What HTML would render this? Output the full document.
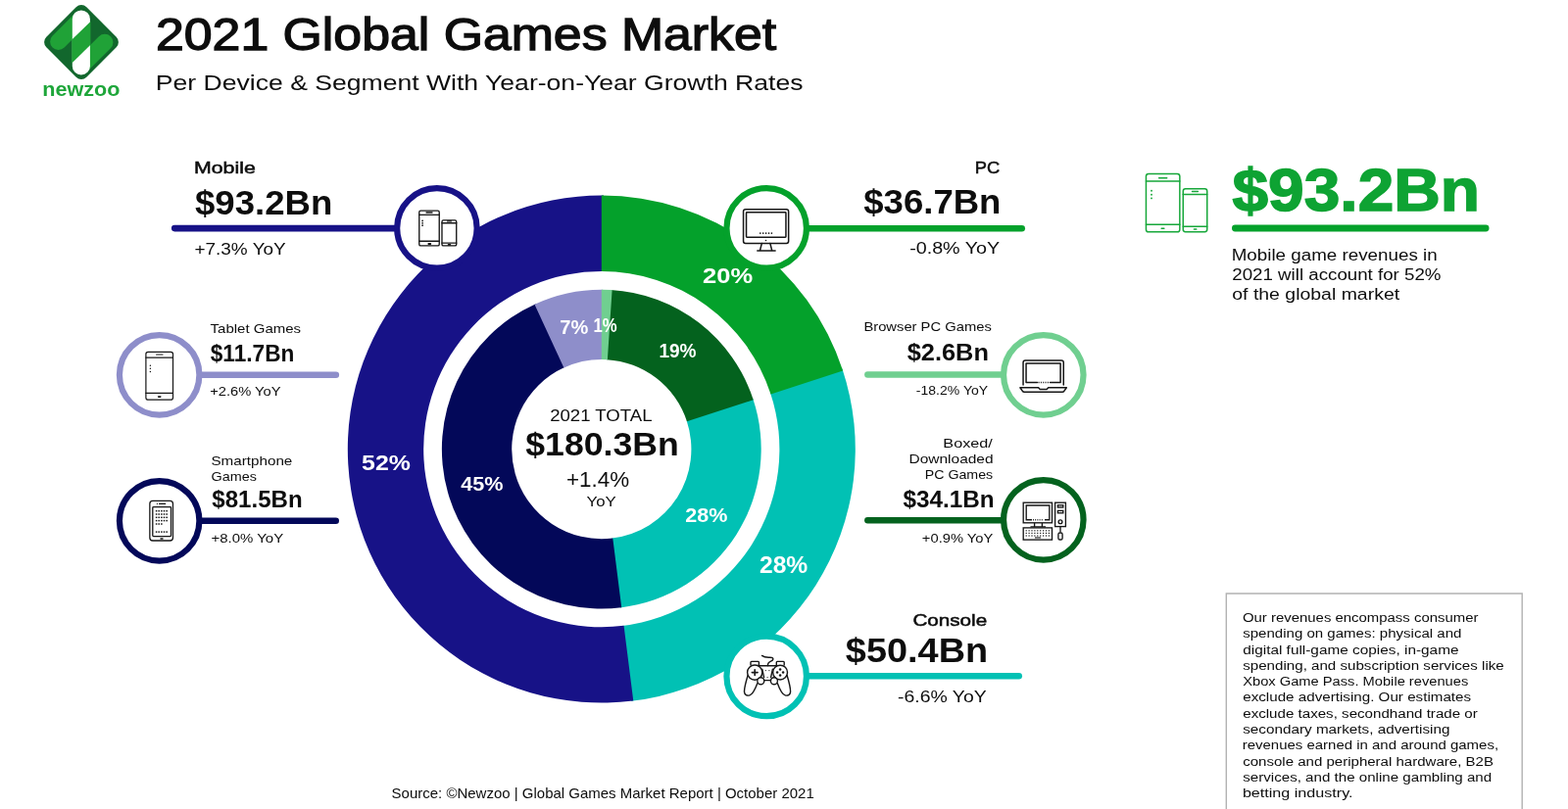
<!DOCTYPE html>
<html lang="en">
<head>
<meta charset="utf-8">
<title>2021 Global Games Market</title>
<style>
html,body{margin:0;padding:0;background:#fff;}
body{width:1600px;height:826px;overflow:hidden;font-family:"Liberation Sans", sans-serif;}
svg{display:block;}
svg text{font-family:"Liberation Sans", sans-serif;}
</style>
</head>
<body>
<svg width="1600" height="826" viewBox="0 0 1600 826">
<rect width="1600" height="826" fill="#fff"/>
<g id="logo">
<rect x="54" y="14" width="58" height="58" rx="7.5" fill="#12672d" transform="rotate(45 83 43)"/>
<line x1="59.6" y1="42.4" x2="80" y2="22" stroke="#20a237" stroke-width="17" stroke-linecap="round"/>
<line x1="106.9" y1="43.2" x2="86" y2="64.1" stroke="#20a237" stroke-width="17" stroke-linecap="round"/>
<rect x="73.8" y="10.4" width="18.1" height="66.1" rx="9.05" fill="#fff"/>
<polygon points="73.3,40.6 92.4,21.9 92.4,45.8 73.3,64.5" fill="#20a237"/>

</g>
<g id="donut">
<path d="M859.42 376.42A259.0 259.0 0 0 1 644.02 715.83L634.99 638.96A181.6 181.6 0 0 0 786.02 400.98Z" fill="#01c1b4"/>
<path d="M646.26 715.56A259.0 259.0 0 1 1 616.06 199.61L615.38 277.01A181.6 181.6 0 1 0 636.56 638.77Z" fill="#171287"/>
<path d="M613.80 199.60A259.0 259.0 0 0 1 860.12 378.56L786.51 402.48A181.6 181.6 0 0 0 613.80 277.00Z" fill="#04a12b"/>
<path d="M768.28 406.91A162.9 162.9 0 0 1 632.81 620.39L624.49 549.57A91.6 91.6 0 0 0 700.67 429.53Z" fill="#01c1b4"/>
<path d="M634.22 620.22A162.9 162.9 0 0 1 546.76 310.13L576.11 375.12A91.6 91.6 0 0 0 625.28 549.48Z" fill="#030859"/>
<path d="M623.18 295.97A162.9 162.9 0 0 1 768.73 408.26L700.92 430.29A91.6 91.6 0 0 0 619.07 367.15Z" fill="#04621e"/>
<path d="M545.47 310.72A162.9 162.9 0 0 1 615.22 295.71L614.60 367.00A91.6 91.6 0 0 0 575.38 375.45Z" fill="#8e8eca"/>
<path d="M613.80 295.70A162.9 162.9 0 0 1 624.60 296.06L619.87 367.20A91.6 91.6 0 0 0 613.80 367.00Z" fill="#70cf90"/>
</g>
<g id="callouts">
<line x1="178.20" y1="233.1" x2="405.15" y2="233.1" stroke="#171287" stroke-width="6.6" stroke-linecap="round"/><circle cx="445.9" cy="232.9" r="40.75" fill="#fff" stroke="#171287" stroke-width="6.2"/>
<line x1="822.95" y1="233.2" x2="1042.70" y2="233.2" stroke="#04a12b" stroke-width="6.6" stroke-linecap="round"/><circle cx="782.2" cy="232.9" r="40.75" fill="#fff" stroke="#04a12b" stroke-width="6.2"/>
<line x1="203.40" y1="382.8" x2="342.80" y2="382.8" stroke="#8e8eca" stroke-width="6.6" stroke-linecap="round"/><circle cx="162.65" cy="382.8" r="40.75" fill="#fff" stroke="#8e8eca" stroke-width="6.2"/>
<line x1="203.40" y1="531.8" x2="342.70" y2="531.8" stroke="#030859" stroke-width="6.6" stroke-linecap="round"/><circle cx="162.65" cy="531.8" r="40.75" fill="#fff" stroke="#030859" stroke-width="6.2"/>
<line x1="885.40" y1="382.5" x2="1024.05" y2="382.5" stroke="#70cf90" stroke-width="6.6" stroke-linecap="round"/><circle cx="1064.8" cy="382.8" r="40.75" fill="#fff" stroke="#70cf90" stroke-width="6.2"/>
<line x1="885.40" y1="531.3" x2="1024.05" y2="531.3" stroke="#04621e" stroke-width="6.6" stroke-linecap="round"/><circle cx="1064.8" cy="530.8" r="40.75" fill="#fff" stroke="#04621e" stroke-width="6.2"/>
<line x1="822.95" y1="690.2" x2="1039.70" y2="690.2" stroke="#01c1b4" stroke-width="6.6" stroke-linecap="round"/><circle cx="782.2" cy="690.4" r="40.75" fill="#fff" stroke="#01c1b4" stroke-width="6.2"/>
</g>
<g id="icons">
<g id="ic-mobile">
<g fill="none" stroke="#161616" stroke-width="1.35" stroke-linecap="round" stroke-linejoin="round"><rect x="427.78" y="215.18" width="20.45" height="35.75" rx="1.5"/><path d="M427.78 219.3H448.22M427.78 246.2H448.22"/><path d="M435 217.0H441"/><path d="M437.3 249.0H439.3" stroke-width="1.76"/></g><circle cx="431.1" cy="225.4" r="0.84" fill="#161616"/><circle cx="431.1" cy="227.8" r="0.84" fill="#161616"/><circle cx="431.1" cy="230.2" r="0.84" fill="#161616"/>
<g fill="none" stroke="#161616" stroke-width="1.35" stroke-linecap="round" stroke-linejoin="round"><rect x="450.98" y="224.88" width="14.75" height="26.05" rx="1.5"/><path d="M450.98 227.7H465.72M450.98 248.1H465.72"/><path d="M456.6 225.9H460.4"/><path d="M457.6 249.9H459.4" stroke-width="1.76"/></g>
</g>
<g id="ic-monitor" fill="none" stroke="#161616" stroke-width="1.5" stroke-linejoin="round" stroke-linecap="round">
<rect x="758.55" y="213.85" width="46.1" height="34.6" rx="2.2"/>
<rect x="761.55" y="216.85" width="40.4" height="25.3" rx="0.6"/>
<path d="M777.3 248.6L775.5 255.7M785.9 248.6L787.7 255.7M772.8 256H791.1"/>
</g>
<g fill="#161616"><circle cx="775.8" cy="238.1" r="0.85"/><circle cx="778.7" cy="238.1" r="0.85"/><circle cx="781.6" cy="238.1" r="0.85"/><circle cx="784.5" cy="238.1" r="0.85"/><circle cx="787.4" cy="238.1" r="0.85"/><circle cx="781.5" cy="245.5" r="0.8"/></g>
<g id="ic-tablet">
<g fill="none" stroke="#161616" stroke-width="1.2" stroke-linecap="round" stroke-linejoin="round"><rect x="148.90" y="359.30" width="27.60" height="48.80" rx="2.2"/><path d="M148.90 365.1H176.50M148.90 401.4H176.50"/><path d="M159.6 362.0H166"/><path d="M161.6 405.1H163.8" stroke-width="1.56"/></g><circle cx="153.4" cy="373.3" r="0.74" fill="#161616"/><circle cx="153.4" cy="376.3" r="0.74" fill="#161616"/><circle cx="153.4" cy="379.4" r="0.74" fill="#161616"/>
</g>
<g id="ic-smart" fill="none" stroke="#161616" stroke-width="1.3" stroke-linejoin="round" stroke-linecap="round">
<rect x="152.85" y="511.3" width="23.6" height="40.7" rx="3"/>
<rect x="155.8" y="517.6" width="18.7" height="30" rx="0.8"/>
<path d="M162.6 514.4H168.6"/>
<path d="M163.9 550H166.1" stroke-width="1.3"/>
</g><g fill="#161616"><circle cx="160.4" cy="514.4" r="0.6"/><rect x="158.85" y="520.95" width="1.5" height="1.5"/><rect x="161.45" y="520.95" width="1.5" height="1.5"/><rect x="164.10" y="520.95" width="1.5" height="1.5"/><rect x="166.75" y="520.95" width="1.5" height="1.5"/><rect x="169.40" y="520.95" width="1.5" height="1.5"/><rect x="158.85" y="524.25" width="1.5" height="1.5"/><rect x="161.45" y="524.25" width="1.5" height="1.5"/><rect x="164.10" y="524.25" width="1.5" height="1.5"/><rect x="166.75" y="524.25" width="1.5" height="1.5"/><rect x="169.40" y="524.25" width="1.5" height="1.5"/><rect x="158.85" y="527.55" width="1.5" height="1.5"/><rect x="161.45" y="527.55" width="1.5" height="1.5"/><rect x="164.10" y="527.55" width="1.5" height="1.5"/><rect x="166.75" y="527.55" width="1.5" height="1.5"/><rect x="169.40" y="527.55" width="1.5" height="1.5"/><rect x="158.85" y="530.85" width="1.5" height="1.5"/><rect x="161.45" y="530.85" width="1.5" height="1.5"/><rect x="164.10" y="530.85" width="1.5" height="1.5"/><rect x="166.75" y="530.85" width="1.5" height="1.5"/><rect x="169.40" y="530.85" width="1.5" height="1.5"/><rect x="158.85" y="534.25" width="1.5" height="1.5"/><rect x="161.45" y="534.25" width="1.5" height="1.5"/><rect x="164.10" y="534.25" width="1.5" height="1.5"/><rect x="158.85" y="542.35" width="1.5" height="1.5"/><rect x="161.45" y="542.35" width="1.5" height="1.5"/><rect x="164.10" y="542.35" width="1.5" height="1.5"/><rect x="166.75" y="542.35" width="1.5" height="1.5"/><rect x="169.40" y="542.35" width="1.5" height="1.5"/></g>
<g id="ic-laptop" fill="none" stroke="#161616" stroke-width="1.5" stroke-linejoin="round" stroke-linecap="round">
<path d="M1044.05 393V370.2Q1044.05 368.05 1046.2 368.05H1083.1Q1085.25 368.05 1085.25 370.2V393"/>
<path d="M1058.5 390.6H1047.05V371.05H1082.1V390.6H1071.5"/>
<path d="M1059.6 390.6H1070.6" stroke-dasharray="1 1.3" stroke-linecap="butt"/>
<path d="M1040.9 395.8H1059.6L1061.2 397.5H1068.1L1069.7 395.8H1088.3L1085.6 399.6Q1085 400.2 1084.2 400.2H1045Q1044.2 400.2 1043.6 399.6Z"/>
</g>
<g id="ic-desktop" fill="none" stroke="#161616" stroke-width="1.35" stroke-linejoin="miter" stroke-linecap="butt">
<rect x="1044.2" y="513.2" width="29.3" height="20.6"/>
<path d="M1053 530.7H1047.2V516H1070.8V530.7H1066"/>
<path d="M1054 530.7H1065" stroke-dasharray="0.9 1.3"/>
<path d="M1055.6 534V537.6M1063.4 534V537.6M1051.5 537.9H1067"/>
<rect x="1044.2" y="538.9" width="29.3" height="12.2"/>
<rect x="1076.6" y="513.2" width="10.8" height="24.4"/>
<rect x="1079.4" y="515.8" width="5.4" height="2.2"/>
<rect x="1079.4" y="521.4" width="5.4" height="2.4"/>
<circle cx="1082" cy="532.7" r="1.9"/>
<path d="M1082 537.6V543.5"/>
<rect x="1079.9" y="544" width="4.2" height="7" rx="1.6"/>
</g><g fill="#161616"><rect x="1046.60" y="541.20" width="1.2" height="1.2"/><rect x="1049.50" y="541.20" width="1.2" height="1.2"/><rect x="1052.40" y="541.20" width="1.2" height="1.2"/><rect x="1055.30" y="541.20" width="1.2" height="1.2"/><rect x="1058.20" y="541.20" width="1.2" height="1.2"/><rect x="1061.10" y="541.20" width="1.2" height="1.2"/><rect x="1064.00" y="541.20" width="1.2" height="1.2"/><rect x="1066.90" y="541.20" width="1.2" height="1.2"/><rect x="1069.80" y="541.20" width="1.2" height="1.2"/><rect x="1046.60" y="543.80" width="1.2" height="1.2"/><rect x="1049.50" y="543.80" width="1.2" height="1.2"/><rect x="1052.40" y="543.80" width="1.2" height="1.2"/><rect x="1055.30" y="543.80" width="1.2" height="1.2"/><rect x="1058.20" y="543.80" width="1.2" height="1.2"/><rect x="1061.10" y="543.80" width="1.2" height="1.2"/><rect x="1064.00" y="543.80" width="1.2" height="1.2"/><rect x="1066.90" y="543.80" width="1.2" height="1.2"/><rect x="1069.80" y="543.80" width="1.2" height="1.2"/><rect x="1046.60" y="546.40" width="1.2" height="1.2"/><rect x="1049.50" y="546.40" width="1.2" height="1.2"/><rect x="1052.40" y="546.40" width="1.2" height="1.2"/><rect x="1055.30" y="546.40" width="1.2" height="1.2"/><rect x="1058.20" y="546.40" width="1.2" height="1.2"/><rect x="1061.10" y="546.40" width="1.2" height="1.2"/><rect x="1064.00" y="546.40" width="1.2" height="1.2"/><rect x="1066.90" y="546.40" width="1.2" height="1.2"/><rect x="1069.80" y="546.40" width="1.2" height="1.2"/><rect x="1056" y="548.4" width="6" height="1.1"/></g>
<g id="ic-pad" fill="none" stroke="#161616" stroke-width="1.4" stroke-linejoin="round" stroke-linecap="round">
<path d="M766 679V676.2Q766 675.4 766.8 675.4H773.6Q774.4 675.4 774.4 676.2V679.6"/>
<path d="M792.3 679.6V676.2Q792.3 675.4 793.1 675.4H799.4Q800.2 675.4 800.2 676.2V679"/>
<path d="M774.4 679.8H792.3"/>
<path d="M783.5 679.6C783.3 677 784.4 676 786.6 675.1C788.8 674.2 789.6 672.6 788.2 671.6C786.6 670.4 781.4 672.6 777.5 669.4"/>
<circle cx="770.2" cy="686.6" r="7.6"/>
<circle cx="796.1" cy="686.6" r="7.4"/>
<circle cx="776.3" cy="695.2" r="3.5" fill="#fff"/>
<circle cx="789.9" cy="695.2" r="3.5" fill="#fff"/>
<path d="M763.1 689.5C761.3 695.5 759.3 702.5 759.5 706.4C759.7 709.4 762.3 710.6 765 709.9C768.2 709 770.3 704.5 772.9 697.6"/>
<path d="M803.1 689.5C804.9 695.5 806.7 702.5 806.6 706.4C806.4 709.4 803.8 710.6 801.1 709.9C797.9 709 795.8 704.5 793.3 697.6"/>
<path d="M779.6 694.6H786.6"/>
<path d="M777.8 683.2L779.6 691.6M788.4 683.2L786.6 691.6"/>
<path d="M767.3 686.6H773.1M770.2 683.7V689.5" stroke-width="1.6"/>
</g>
<g fill="#161616"><circle cx="796.1" cy="683.6" r="1.25"/><circle cx="793.1" cy="686.6" r="1.25"/><circle cx="799.1" cy="686.6" r="1.25"/><circle cx="796.1" cy="689.6" r="1.25"/>
<circle cx="781.3" cy="684.6" r="0.6"/><circle cx="784.9" cy="684.6" r="0.6"/><circle cx="783.1" cy="691.6" r="0.6"/></g>
<g id="ic-green">
<g fill="none" stroke="#17a73a" stroke-width="1.5" stroke-linecap="round" stroke-linejoin="round"><rect x="1169.45" y="177.45" width="34.40" height="59.30" rx="2.6"/><path d="M1169.45 185.1H1203.85M1169.45 229.2H1203.85"/><path d="M1182.6 181.8H1190.7"/><path d="M1185.2 233.3H1187.9" stroke-width="1.50"/></g><circle cx="1175" cy="194.7" r="0.93" fill="#17a73a"/><circle cx="1175" cy="198.7" r="0.93" fill="#17a73a"/><circle cx="1175" cy="202.4" r="0.93" fill="#17a73a"/>
<g fill="none" stroke="#17a73a" stroke-width="1.5" stroke-linecap="round" stroke-linejoin="round"><rect x="1207.25" y="192.85" width="24.50" height="43.90" rx="2.4"/><path d="M1207.25 198.4H1231.75M1207.25 231.2H1231.75"/><path d="M1216.5 195.4H1222.4"/><path d="M1218.4 233.9H1220.8" stroke-width="1.50"/></g>
</g>
</g>
<g id="panel">
<line x1="1260.4" y1="233" x2="1516.1" y2="233" stroke="#04a12b" stroke-width="6.8" stroke-linecap="round"/>
<path d="M1251.3 827V606h301.9V827" fill="none" stroke="#b2b2b2" stroke-width="1.4"/>
</g>
<g id="labels">
<text transform="translate(159.03 51.30) scale(1.1258 1)" font-size="46" fill="#0d0d0d" stroke="#0d0d0d" stroke-width="1.3" stroke-linejoin="miter" stroke-miterlimit="3">2021 Global Games Market</text>
<text transform="translate(158.87 91.50) scale(1.2193 1)" font-size="21.8" fill="#0d0d0d">Per Device &amp; Segment With Year-on-Year Growth Rates</text>
<text transform="translate(43.25 97.60) scale(1.0793 1)" font-size="20" font-weight="bold" fill="#1ea63a">newzoo</text>
<text transform="translate(198.02 177.40) scale(1.2842 1)" font-size="16.6" fill="#0d0d0d" stroke="#0d0d0d" stroke-width="0.5" stroke-linejoin="miter" stroke-miterlimit="3">Mobile</text>
<text transform="translate(198.97 218.85) scale(1.0577 1)" font-size="34.6" font-weight="bold" fill="#0d0d0d">$93.2Bn</text>
<text transform="translate(198.46 260.30) scale(1.1152 1)" font-size="17" fill="#0d0d0d">+7.3% YoY</text>
<text transform="translate(214.62 340.00) scale(1.1354 1)" font-size="13.2" fill="#0d0d0d">Tablet Games</text>
<text transform="translate(214.76 368.85) scale(0.9683 1)" font-size="23.4" font-weight="bold" fill="#0d0d0d">$11.7Bn</text>
<text transform="translate(214.16 404.10) scale(1.1137 1)" font-size="13.2" fill="#0d0d0d">+2.6% YoY</text>
<text transform="translate(215.44 475.00) scale(1.1532 1)" font-size="13.2" fill="#0d0d0d">Smartphone</text>
<text transform="translate(215.48 491.40) scale(1.0909 1)" font-size="13.2" fill="#0d0d0d">Games</text>
<text transform="translate(216.34 518.25) scale(1.0421 1)" font-size="23.1" font-weight="bold" fill="#0d0d0d">$81.5Bn</text>
<text transform="translate(215.45 553.80) scale(1.1357 1)" font-size="13.2" fill="#0d0d0d">+8.0% YoY</text>
<text transform="translate(994.70 177.40) scale(1.1034 1)" font-size="16.6" fill="#0d0d0d" stroke="#0d0d0d" stroke-width="0.5" stroke-linejoin="miter" stroke-miterlimit="3">PC</text>
<text transform="translate(881.27 217.55) scale(1.0569 1)" font-size="34.6" font-weight="bold" fill="#0d0d0d">$36.7Bn</text>
<text transform="translate(928.13 258.60) scale(1.1604 1)" font-size="17" fill="#0d0d0d">-0.8% YoY</text>
<text transform="translate(881.38 338.00) scale(1.1183 1)" font-size="13.2" fill="#0d0d0d">Browser PC Games</text>
<text transform="translate(925.73 367.85) scale(1.0840 1)" font-size="23.4" font-weight="bold" fill="#0d0d0d">$2.6Bn</text>
<text transform="translate(934.87 403.40) scale(1.0618 1)" font-size="13.2" fill="#0d0d0d">-18.2% YoY</text>
<text transform="translate(962.37 456.80) scale(1.2300 1)" font-size="13.2" fill="#0d0d0d">Boxed/</text>
<text transform="translate(927.53 472.90) scale(1.1734 1)" font-size="13.2" fill="#0d0d0d">Downloaded</text>
<text transform="translate(943.72 489.00) scale(1.0762 1)" font-size="13.2" fill="#0d0d0d">PC Games</text>
<text transform="translate(921.44 518.35) scale(1.0524 1)" font-size="23.1" font-weight="bold" fill="#0d0d0d">$34.1Bn</text>
<text transform="translate(940.86 553.80) scale(1.1153 1)" font-size="13.2" fill="#0d0d0d">+0.9% YoY</text>
<text transform="translate(931.38 639.30) scale(1.2450 1)" font-size="16.6" fill="#0d0d0d" stroke="#0d0d0d" stroke-width="0.5" stroke-linejoin="miter" stroke-miterlimit="3">Console</text>
<text transform="translate(862.85 675.95) scale(1.1017 1)" font-size="34.4" font-weight="bold" fill="#0d0d0d">$50.4Bn</text>
<text transform="translate(916.04 717.00) scale(1.1438 1)" font-size="17" fill="#0d0d0d">-6.6% YoY</text>
<text transform="translate(1257.50 214.60) scale(1.0709 1)" font-size="61.5" font-weight="bold" fill="#0ea333" stroke="#0ea333" stroke-width="1.5" stroke-linejoin="miter" stroke-miterlimit="3">$93.2Bn</text>
<text transform="translate(1256.69 265.50) scale(1.2052 1)" font-size="15.6" fill="#0d0d0d">Mobile game revenues in</text>
<text transform="translate(1257.30 285.75) scale(1.2000 1)" font-size="15.6" fill="#0d0d0d">2021 will account for 52%</text>
<text transform="translate(1257.26 305.75) scale(1.2485 1)" font-size="15.6" fill="#0d0d0d">of the global market</text>
<text transform="translate(399.60 815.00) scale(1.0707 1)" font-size="14" fill="#0d0d0d">Source: ©Newzoo | Global Games Market Report | October 2021</text>
<text transform="translate(561.18 429.80) scale(1.0939 1)" font-size="17" fill="#0d0d0d">2021 TOTAL</text>
<text transform="translate(536.25 465.15) scale(1.0901 1)" font-size="32.7" font-weight="bold" fill="#0d0d0d">$180.3Bn</text>
<text transform="translate(577.98 497.20) scale(1.0188 1)" font-size="22" fill="#0d0d0d">+1.4%</text>
<text transform="translate(598.60 516.60) scale(1.2000 1)" font-size="14" fill="#0d0d0d">YoY</text>
<text transform="translate(369.07 480.40) scale(1.1017 1)" font-size="22.6" font-weight="bold" fill="#ffffff">52%</text>
<text transform="translate(717.03 288.80) scale(1.1602 1)" font-size="22" font-weight="bold" fill="#ffffff">20%</text>
<text transform="translate(774.95 585.00) scale(1.0726 1)" font-size="23" font-weight="bold" fill="#ffffff">28%</text>
<text transform="translate(470.24 501.25) scale(1.0559 1)" font-size="20.5" font-weight="bold" fill="#ffffff">45%</text>
<text transform="translate(699.19 533.25) scale(1.0774 1)" font-size="20" font-weight="bold" fill="#ffffff">28%</text>
<text transform="translate(672.41 365.10) scale(0.9542 1)" font-size="20" font-weight="bold" fill="#ffffff">19%</text>
<text transform="translate(571.25 341.20) scale(1.0018 1)" font-size="20" font-weight="bold" fill="#ffffff">7%</text>
<text transform="translate(605.55 338.80) scale(0.8367 1)" font-size="20" font-weight="bold" fill="#ffffff">1%</text>
<text transform="translate(1267.97 634.90) scale(1.1063 1)" font-size="13.5" fill="#0d0d0d">Our revenues encompass consumer</text>
<text transform="translate(1268.24 651.21) scale(1.1146 1)" font-size="13.5" fill="#0d0d0d">spending on games: physical and</text>
<text transform="translate(1268.23 667.52) scale(1.1387 1)" font-size="13.5" fill="#0d0d0d">digital full-game copies, in-game</text>
<text transform="translate(1268.24 683.83) scale(1.1214 1)" font-size="13.5" fill="#0d0d0d">spending, and subscription services like</text>
<text transform="translate(1268.26 700.14) scale(1.0875 1)" font-size="13.5" fill="#0d0d0d">Xbox Game Pass. Mobile revenues</text>
<text transform="translate(1268.24 716.45) scale(1.1253 1)" font-size="13.5" fill="#0d0d0d">exclude advertising. Our estimates</text>
<text transform="translate(1268.24 732.76) scale(1.1203 1)" font-size="13.5" fill="#0d0d0d">exclude taxes, secondhand trade or</text>
<text transform="translate(1268.23 749.07) scale(1.1310 1)" font-size="13.5" fill="#0d0d0d">secondary markets, advertising</text>
<text transform="translate(1267.69 765.38) scale(1.1101 1)" font-size="13.5" fill="#0d0d0d">revenues earned in and around games,</text>
<text transform="translate(1268.24 781.69) scale(1.1142 1)" font-size="13.5" fill="#0d0d0d">console and peripheral hardware, B2B</text>
<text transform="translate(1268.24 798.00) scale(1.1214 1)" font-size="13.5" fill="#0d0d0d">services, and the online gambling and</text>
<text transform="translate(1267.90 814.31) scale(1.1957 1)" font-size="13.5" fill="#0d0d0d">betting industry.</text>
</g>
</svg>
</body>
</html>
